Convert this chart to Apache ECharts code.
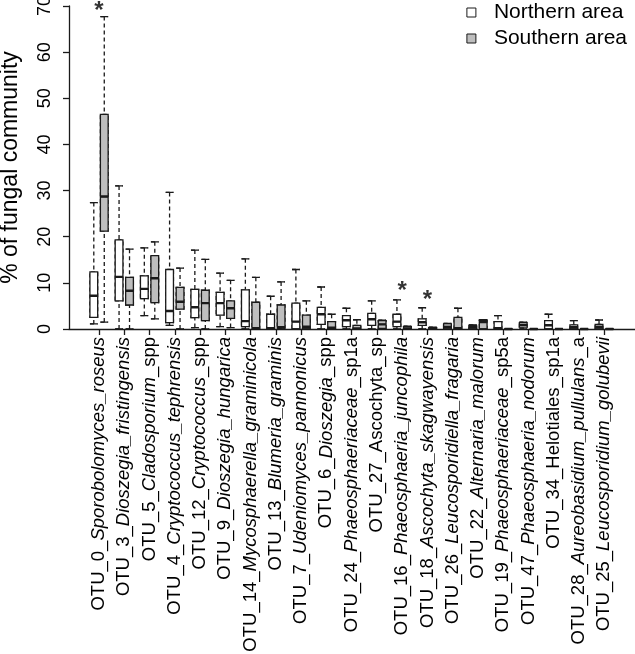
<!DOCTYPE html>
<html><head><meta charset="utf-8">
<script src="https://cdn.jsdelivr.net/npm/echarts@6/dist/echarts.min.js"></script>
<style>html,body{margin:0;padding:0;background:#fff}#c{width:635px;height:654px}</style>
</head><body><div id="c"></div>
<script>
// ---- data ----
const categories = [
  'OTU_0_Sporobolomyces_roseus','OTU_3_Dioszegia_fristingensis','OTU_5_Cladosporium_spp',
  'OTU_4_Cryptococcus_tephrensis','OTU_12_Cryptococcus_spp','OTU_9_Dioszegia_hungarica',
  'OTU_14_Mycosphaerella_graminicola','OTU_13_Blumeria_graminis','OTU_7_Udeniomyces_pannonicus',
  'OTU_6_Dioszegia_spp','OTU_24_Phaeosphaeriaceae_sp1a','OTU_27_Ascochyta_sp',
  'OTU_16_Phaeosphaeria_juncophila','OTU_18_Ascochyta_skagwayensis','OTU_26_Leucosporidiella_fragaria',
  'OTU_22_Alternaria_malorum','OTU_19_Phaeosphaeriaceae_sp5a','OTU_47_Phaeosphaeria_nodorum',
  'OTU_34_Helotiales_sp1a','OTU_28_Aureobasidium_pullulans_a','OTU_25_Leucosporidium_golubevii'
];
// part of each label set in italics
const italicParts = [
  'Sporobolomyces_roseus','Dioszegia_fristingensis','Cladosporium',
  'Cryptococcus_tephrensis','Cryptococcus','Dioszegia_hungarica',
  'Mycosphaerella_graminicola','Blumeria_graminis','Udeniomyces_pannonicus',
  'Dioszegia','Phaeosphaeriaceae','',
  'Phaeosphaeria_juncophila','Ascochyta_skagwayensis','Leucosporidiella_fragaria',
  'Alternaria_malorum','Phaeosphaeriaceae','Phaeosphaeria_nodorum',
  '','Aureobasidium_pullulans','Leucosporidium_golubevii'
];
// [min, Q1, median, Q3, max]
const northern = [
  [1.1, 2.5, 7.2, 12.4, 27.4],
  [0, 6.1, 11.3, 19.3, 31.0],
  [2.9, 6.6, 8.7, 11.5, 17.6],
  [0.8, 1.4, 3.9, 12.9, 29.6],
  [0.3, 2.45, 4.7, 8.6, 17.1],
  [0.5, 3.0, 5.6, 7.95, 12.1],
  [0, 0.5, 1.7, 8.5, 15.2],
  [0, 0, 0.2, 3.2, 7.1],
  [0, 0, 1.6, 5.6, 12.9],
  [0, 1.0, 3.2, 4.7, 9.1],
  [0, 0.5, 1.9, 2.9, 4.5],
  [0, 0.8, 2.1, 3.4, 6.1],
  [0, 0.5, 1.6, 3.2, 6.3],
  [0, 0.8, 1.45, 2.2, 4.6],
  [0, 0, 0.5, 1.1, 1.2],
  [0, 0, 0.4, 0.8, 0.9],
  [0, 0, 0.2, 1.6, 2.9],
  [0, 0.4, 0.9, 1.4, 1.5],
  [0, 0, 0.8, 1.8, 3.2],
  [0, 0, 0.4, 0.9, 1.8],
  [0, 0, 0.5, 1.0, 1.95]
];
const southern = [
  [1.5, 21.2, 28.7, 46.5, 67.7],
  [0, 5.2, 8.3, 11.2, 17.3],
  [2.2, 5.7, 11.0, 15.9, 18.9],
  [0, 4.3, 5.9, 9.0, 13.2],
  [0, 1.8, 5.6, 8.4, 15.1],
  [0.3, 2.3, 4.5, 6.1, 10.55],
  [0, 0, 0.2, 5.8, 11.2],
  [0, 0.2, 0.4, 5.2, 10.2],
  [0, 0, 0.5, 3.0, 6.1],
  [0, 0, 0.3, 1.6, 3.2],
  [0, 0, 0.1, 0.8, 2.0],
  [0, 0.15, 1.0, 1.8, 1.9],
  [0, 0, 0.1, 0.5, 0.6],
  [0, 0, 0.05, 0.3, 0.4],
  [0, 0, 0.2, 2.5, 4.5],
  [0, 0, 1.5, 1.9, 2.0],
  [0, 0, 0, 0, 0],
  [0, 0, 0, 0, 0],
  [0, 0, 0, 0, 0],
  [0, 0, 0, 0, 0],
  [0, 0, 0, 0, 0]
];
const starCategories = ['OTU_0_Sporobolomyces_roseus','OTU_16_Phaeosphaeria_juncophila','OTU_18_Ascochyta_skagwayensis'];
const starValues = [68.8, 8.2, 6.3];
const yTicks = [0, 10, 20, 30, 40, 50, 60, 70];
const seriesNames = ['Northern area', 'Southern area'];

// ---- chart ----
const FONT = 'Liberation Sans, Arial, Helvetica, sans-serif';
const INK = '#1a1a1a';
const fills = ['#ffffff', '#bebebe'];
const chart = echarts.init(document.getElementById('c'), null, {renderer: 'canvas'});

function labelFmt(value, idx) {
  const it = italicParts[idx];
  if (!it) return '{n|' + value + '}';
  const p = value.indexOf(it);
  const pre = value.slice(0, p), post = value.slice(p + it.length);
  let s = '';
  if (pre) s += '{n|' + pre + '}';
  s += '{i|' + it + '}';
  if (post) s += '{n|' + post + '}';
  return s;
}

const LBL = 18.5;
const catAxis = (i, visible) => ({
  type: 'category', gridIndex: 0, data: categories, show: visible,
  boundaryGap: true,
  axisLine: {show: false},
  axisTick: {show: true, alignWithLabel: true, length: 6, lineStyle: {color: INK, width: 1.3}},
  axisLabel: {
    show: true, rotate: 90, margin: 8, interval: 0, formatter: labelFmt,
    color: '#000', fontFamily: FONT, fontSize: LBL,
    rich: {
      n: {fontFamily: FONT, fontSize: LBL, color: '#000'},
      i: {fontFamily: FONT, fontSize: LBL, color: '#000', fontStyle: 'italic'}
    }
  },
  splitLine: {show: false}
});

const layers = [
  {axis: 1, pick: s => s.slice(), dashed: true, width: 1.3, fill: false},
  {axis: 0, pick: s => [s[1], s[1], s[2], s[3], s[3]], dashed: false, width: 1.3, fill: true},
  {axis: 2, pick: s => [s[4], s[4], s[4], s[4], s[4]], dashed: false, width: 1.3, fill: false},
  {axis: 3, pick: s => [s[0], s[0], s[0], s[0], s[0]], dashed: false, width: 1.3, fill: false},
  {axis: 4, pick: s => [s[2], s[2], s[2], s[2], s[2]], dashed: false, width: 2.4, fill: false}
];

const series = [];
layers.forEach(L => {
  [northern, southern].forEach((stats, g) => {
    series.push({
      type: 'boxplot', name: seriesNames[g], xAxisIndex: L.axis, yAxisIndex: 0,
      silent: true, animation: false, boxWidth: [7, 8],
      data: stats.map(L.pick),
      itemStyle: {
        color: L.fill ? fills[g] : 'rgba(0,0,0,0)',
        borderColor: INK, borderWidth: L.width,
        borderType: L.dashed ? [4, 3] : 'solid'
      },
      emphasis: {disabled: true}
    });
  });
});

series.push({
  type: 'scatter', xAxisIndex: 0, yAxisIndex: 0, silent: true, animation: false,
  symbolSize: 0,
  data: starCategories.map((c, i) => [c, starValues[i]]),
  label: {show: true, position: 'inside', formatter: '*', fontSize: 24, fontWeight: 'bold',
           color: '#000', fontFamily: FONT}
});

chart.setOption({
  animation: false,
  backgroundColor: '#fff',
  grid: [
    {left: 86.4, right: 18.1, top: 6, bottom: 325, containLabel: false, outerBoundsMode: 'none'},
    {left: 69, right: 0, top: 6, bottom: 325, containLabel: false, outerBoundsMode: 'none'}
  ],
  legend: {
    orient: 'vertical', right: 3, top: -3, itemWidth: 9, itemHeight: 9, itemGap: 5,
    selectedMode: false,
    data: [
      {name: seriesNames[0], icon: 'rect', itemStyle: {color: fills[0], borderColor: INK, borderWidth: 1}},
      {name: seriesNames[1], icon: 'rect', itemStyle: {color: fills[1], borderColor: INK, borderWidth: 1}}
    ],
    formatter: n => '{t|' + n + '}',
    textStyle: {color: '#000', fontFamily: FONT, fontSize: 21,
      rich: {t: {fontFamily: FONT, fontSize: 21, color: '#000', padding: [0, 0, 0, 13], lineHeight: 20}}}
  },
  xAxis: [
    catAxis(0, true), catAxis(1, false), catAxis(2, false), catAxis(3, false), catAxis(4, false),
    {type: 'value', gridIndex: 1, min: 0, max: 1,
     axisLine: {show: true, lineStyle: {color: INK, width: 1.3}},
     axisTick: {show: false}, axisLabel: {show: false}, splitLine: {show: false}}
  ],
  yAxis: [
    {type: 'value', gridIndex: 0, min: 0, max: 70, interval: 10, show: false},
    {type: 'value', gridIndex: 1, min: yTicks[0], max: yTicks[yTicks.length - 1], interval: 10,
     axisLine: {show: true, lineStyle: {color: INK, width: 1.3}},
     axisTick: {show: true, length: 6, lineStyle: {color: INK, width: 1.3}},
     axisLabel: {rotate: 90, margin: 15, color: '#000', fontFamily: FONT, fontSize: 18},
     splitLine: {show: false},
     name: '% of fungal community', nameLocation: 'middle', nameRotate: 90, nameGap: 47,
     nameMoveOverlap: false,
     nameTextStyle: {color: '#000', fontFamily: FONT, fontSize: 23}
    }
  ],
  series: series
});
</script>
</body></html>
